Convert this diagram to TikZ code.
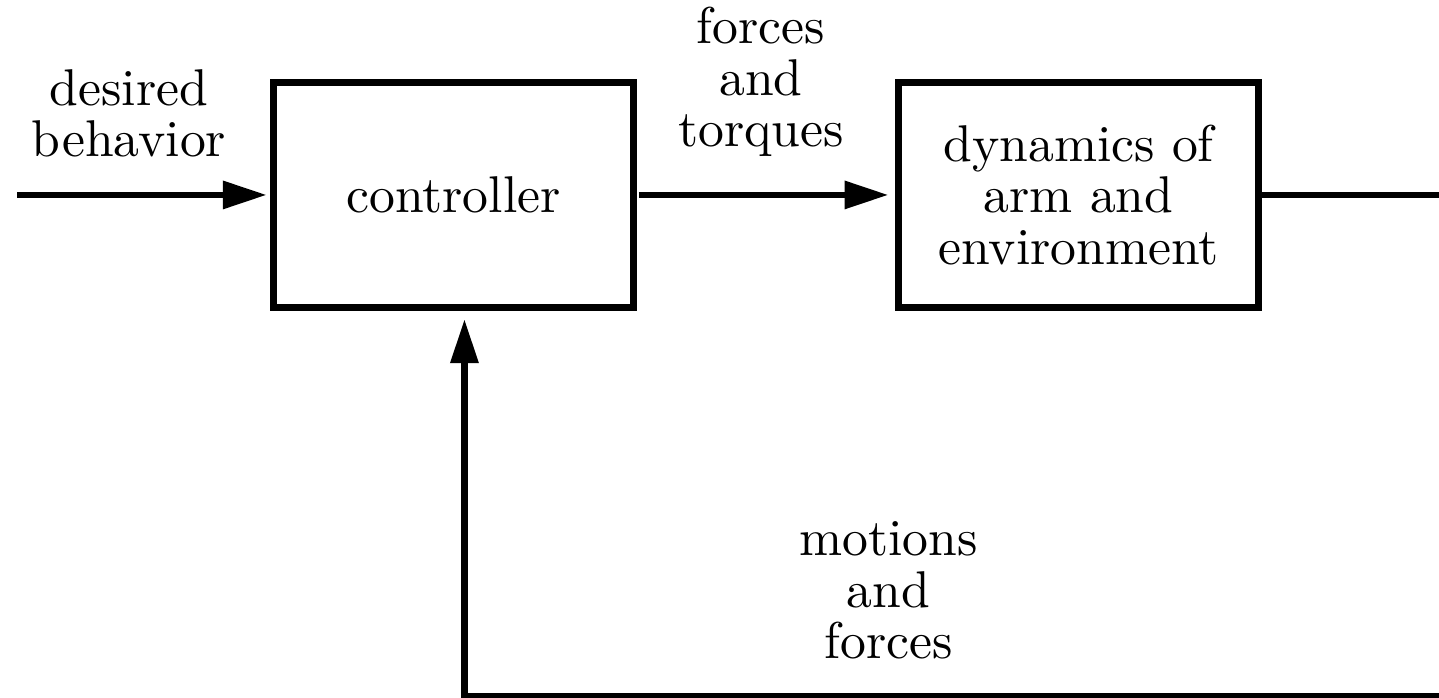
\documentclass[tikz,border=0pt]{standalone}
\usetikzlibrary{arrows.meta}

\begin{document}
\begin{tikzpicture}[font=\fontsize{10}{10}\selectfont,
    block/.style={draw, line width=1.3pt, minimum width=2.447cm, minimum height=1.526cm, inner sep=0pt, align=center},
    signal/.style={line width=1.3pt, -{Triangle[length=8.5pt,width=5.2pt]}},
    wire/.style={line width=1.3pt},
    lbl/.style={align=center, anchor=base}]
    %%%%% START %%%%%

    \useasboundingbox (0, 0) rectangle (9.781, 4.744);

    \node[block] (ctrl) at (3.082, 3.419) {controller};
    \node[block] (dyn) at (7.331, 3.419) {dynamics of\\arm and\\environment};

    \coordinate (in) at (0.116, 3.419);
    \coordinate (out) at (9.79, 3.419);
    \coordinate (fbR) at (9.79, 0.012);
    \coordinate (fbL) at (3.157, 0.012);

    \draw[signal, shorten >=0.64pt] (in) -- (ctrl);
    \draw[signal, shorten <=0.4pt, shorten >=1.3pt] (ctrl) -- (dyn);
    \draw[wire] (dyn) -- (out);
    \draw[signal, shorten >=1.66pt] (fbR) -- (fbL) -- (fbL |- ctrl.south);

    \node[lbl] (desired) at (0.877, 3.677) {desired\\behavior};
    \node[lbl] (torques) at (5.173, 3.745) {forces\\and\\torques};
    \node[lbl] (motions) at (6.039, 0.265) {motions\\and\\forces};

    %%%%% END %%%%%
\end{tikzpicture}
\end{document}
